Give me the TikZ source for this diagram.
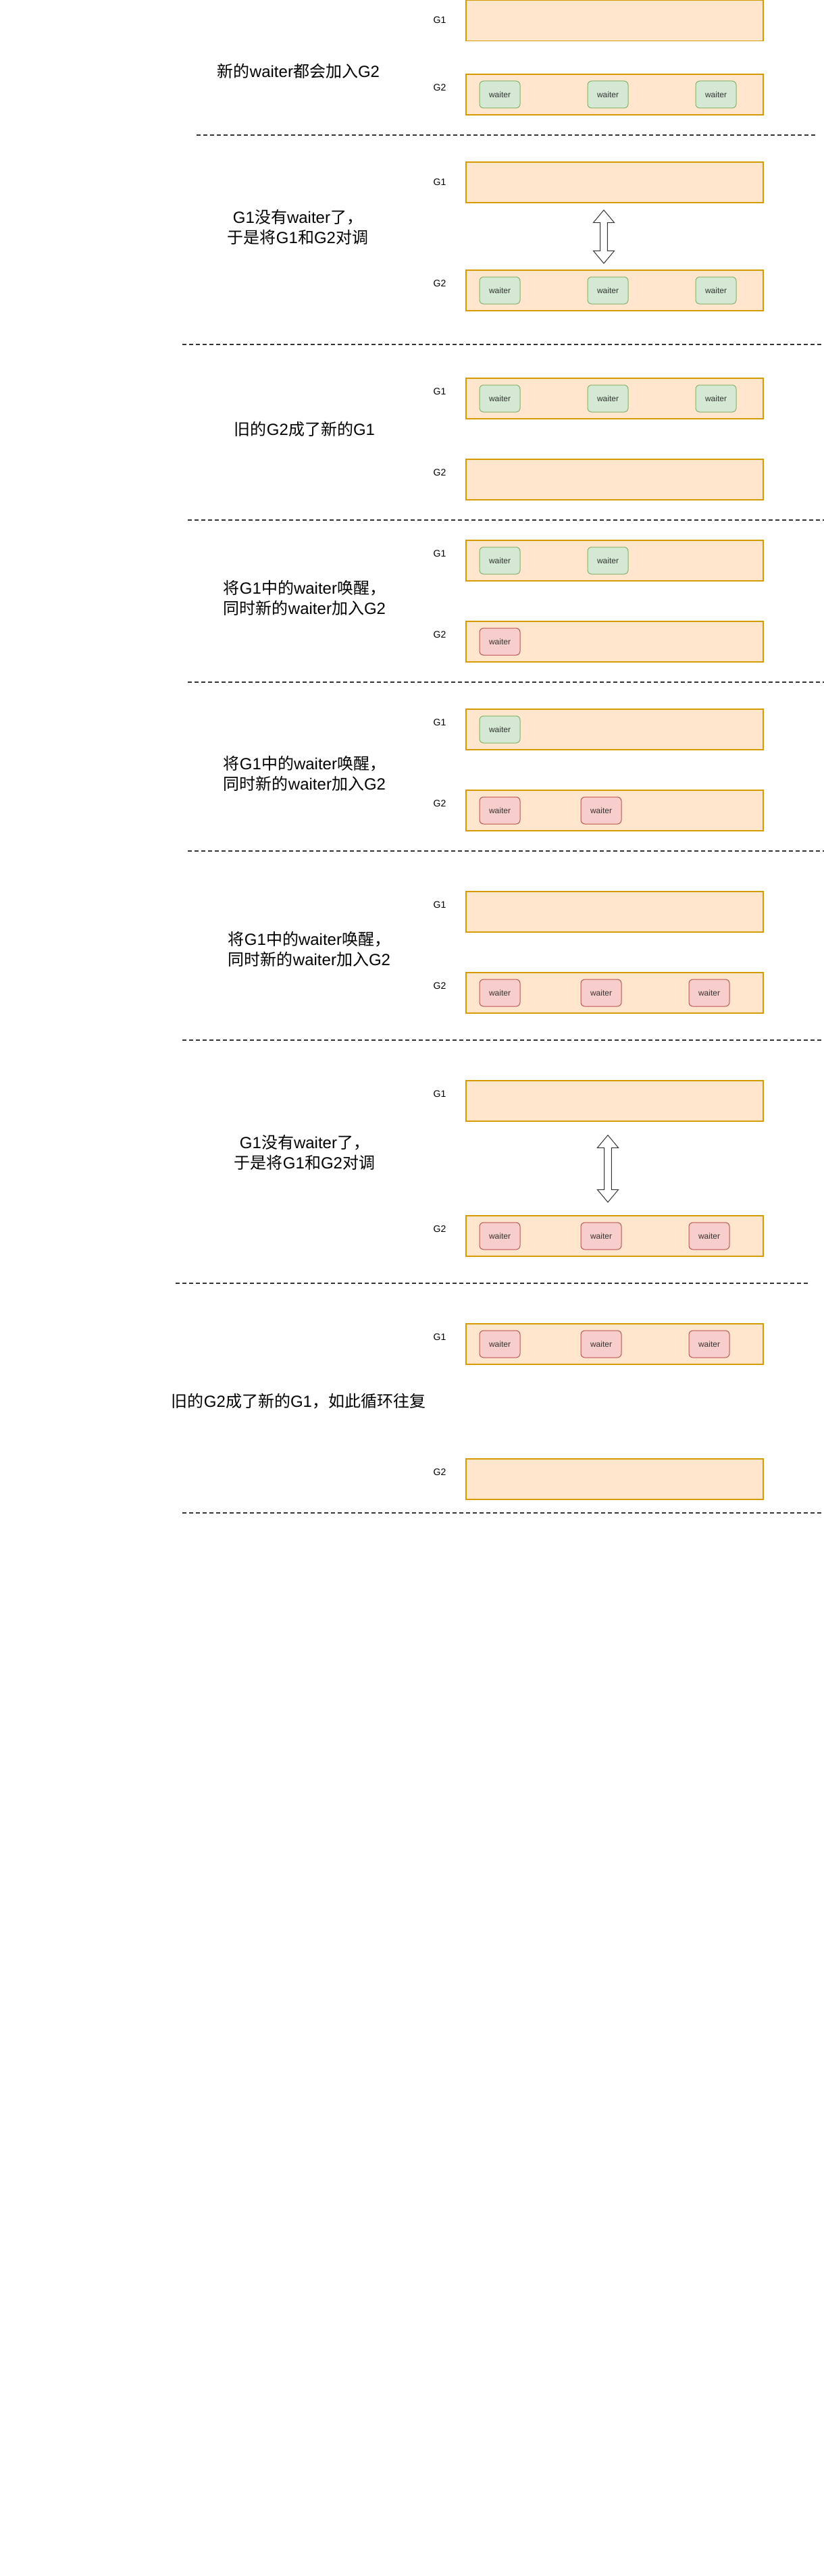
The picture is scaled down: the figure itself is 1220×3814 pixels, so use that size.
\documentclass[tikz,border=0pt]{standalone}
\usepackage{fontspec}
\setmainfont{Liberation Sans}
\newfontfamily\cjk{Noto Sans CJK SC}
\newcommand{\zh}[1]{{\cjk #1}}
\definecolor{grpfill}{HTML}{FFE6CC}
\definecolor{grpline}{HTML}{D79B00}
\definecolor{gfill}{HTML}{D5E8D4}
\definecolor{gline}{HTML}{82B366}
\definecolor{rfill}{HTML}{F8CECC}
\definecolor{rline}{HTML}{B85450}
\definecolor{wtext}{HTML}{333333}

\begin{document}
\begin{tikzpicture}[x=0.75pt,y=-0.75pt,line width=0.75pt,
grp/.style={draw=grpline,fill=grpfill,line width=0.9pt,minimum width=330pt,minimum height=45pt,inner sep=0pt},
gw/.style={draw=gline,fill=gfill,rounded corners=4.5pt,minimum width=45pt,minimum height=30pt,inner sep=0pt,text=wtext,font=\fontsize{9}{10}\selectfont},
rw/.style={gw,draw=rline,fill=rfill},
glab/.style={font=\fontsize{10.5}{12}\selectfont},
txt/.style={align=center,font=\fontsize{18}{22.5}\selectfont},
sep/.style={draw=black!80,line width=1.5pt,dash pattern=on 4.5pt off 3pt},
swap/.style={draw=black!80,fill=white}]
\path[use as bounding box,fill=white] (0,0) rectangle (1220,3814);
\foreach \s/\ya/\yb/\la in {1/0.5/110/30,2/240/400/270,3/560/680/580,4/800/920/820,5/1050/1170/1070,6/1320/1440/1340,7/1600/1800/1620,8/1960/2160/1980}{
\node[grp] (a\s) at (910,\ya+30) {};
\node[grp] (b\s) at (910,\yb+30) {};
\node[glab] (la\s) at (651,\la) {G1};
\node[glab] (lb\s) at (651,\yb+20) {G2};};
\foreach \s/\g/\c/\xs in {1/b/gw/{740,900,1060},2/b/gw/{740,900,1060},3/a/gw/{740,900,1060},4/a/gw/{740,900},4/b/rw/{740},5/a/gw/{740},5/b/rw/{740,890},6/b/rw/{740,890,1050},7/b/rw/{740,890,1050},8/a/rw/{740,890,1050}}{
\foreach \x in \xs {\node[\c] (w\s\g\x) at (\x,0 |- \g\s) {waiter};};};
\node[txt] (t1) at (442,105) {\zh{新的}waiter\zh{都会加入}G2};
\node[txt] (t2) at (441,336) {G1\zh{没有}waiter\zh{了，}\\\zh{于是将}G1\zh{和}G2\zh{对调}};
\node[txt] (t3) at (451,635) {\zh{旧的}G2\zh{成了新的}G1};
\node[txt] (t4) at (451,885) {\zh{将}G1\zh{中的}waiter\zh{唤醒，}\\\zh{同时新的}waiter\zh{加入}G2};
\node[txt] (t5) at (451,1145) {\zh{将}G1\zh{中的}waiter\zh{唤醒，}\\\zh{同时新的}waiter\zh{加入}G2};
\node[txt] (t6) at (458,1405) {\zh{将}G1\zh{中的}waiter\zh{唤醒，}\\\zh{同时新的}waiter\zh{加入}G2};
\node[txt] (t7) at (451,1706) {G1\zh{没有}waiter\zh{了，}\\\zh{于是将}G1\zh{和}G2\zh{对调}};
\node[txt] (t8) at (442,2075) {\zh{旧的}G2\zh{成了新的}G1\zh{，如此循环往复}};
% swap arrows between G1 and G2
\coordinate (sw2) at (894,311);
\coordinate (sw7) at (900,1680.7);
\foreach \s/\l in {2/41.6,7/61.9}{
\draw[swap] (sw\s) -- ++(15.6,18.7) -- ++(-10.3,0) -- ++(0,\l) -- ++(10.3,0) -- ++(-15.6,18.7) -- ++(-15.6,-18.7) -- ++(10.3,0) -- ++(0,-\l) -- ++(-10.3,0) -- cycle;};
\foreach \y/\xa/\xb in {200/291/1208,510/270/1220,770/278/1220,1010/278/1220,1260/278/1220,1540/270/1216,1900/260/1200,2240/270/1216}{
\draw[sep] (\xa,\y) -- (\xb,\y);};
\end{tikzpicture}
\end{document}
